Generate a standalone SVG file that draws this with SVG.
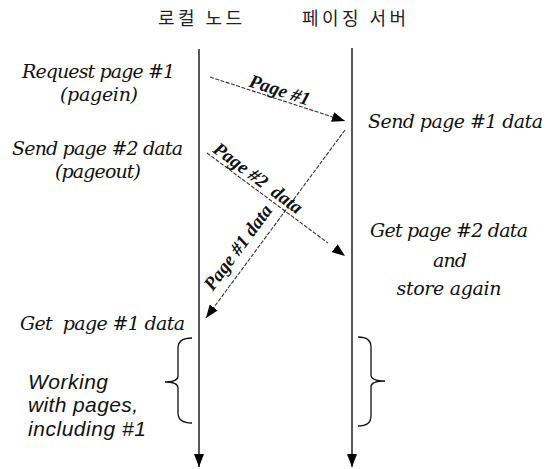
<svg xmlns="http://www.w3.org/2000/svg" width="557" height="469" viewBox="0 0 557 469">
<style>
.title{font-family:"Noto Sans CJK KR","Noto Sans",sans-serif;font-size:18px;fill:#222}
.note{font-family:"DejaVu Serif","Liberation Serif",serif;font-style:italic;font-size:19px;fill:#111}
.sans{font-family:"Liberation Sans",Arial,sans-serif;font-style:italic;font-size:21px;fill:#111}
.lbl{font-family:"Liberation Serif","Times New Roman",serif;font-style:italic;font-weight:bold;font-size:19px;fill:#111;text-anchor:middle}
.life{stroke:#111;stroke-width:1.4;fill:none}
.msg{stroke:#333;stroke-width:1.1;stroke-dasharray:4 1.5;fill:none}
.brace{stroke:#111;stroke-width:1.3;fill:none}
</style>
<defs>
<marker id="ah" markerUnits="userSpaceOnUse" markerWidth="13" markerHeight="10" refX="13" refY="5" orient="auto">
<path d="M0,0 L13,5 L0,10 z" fill="#000"/>
</marker>
</defs>
<rect width="557" height="469" fill="#fff"/>
<g id="local-node">
<text class="title" x="158" y="25" textLength="84">로컬 노드</text>
<line class="life" x1="199" y1="49" x2="199" y2="467" marker-end="url(#ah)"/>
<path class="brace" d="M192,338 Q178,338 178,348 L178,376 Q178,382 165,382 Q178,382 178,388 L178,413 Q178,423 192,423"/>
</g>
<g id="paging-server">
<text class="title" x="302" y="25" textLength="104">페이징 서버</text>
<line class="life" x1="352" y1="48" x2="352" y2="467" marker-end="url(#ah)"/>
<path class="brace" d="M358,337 Q371,337 371,347 L371,375 Q371,381 385,381 Q371,381 371,387 L371,416 Q371,426 358,426"/>
</g>
<g id="notes-left">
<text class="note" x="22" y="78" textLength="153">Request page #1</text>
<text class="note" x="60" y="101" textLength="78">(pagein)</text>
<text class="note" x="12" y="155" textLength="171">Send page #2 data</text>
<text class="note" x="55" y="178" textLength="86">(pageout)</text>
<text class="note" x="20" y="330" textLength="165" xml:space="preserve">Get  page #1 data</text>
<text class="sans" x="28" y="389" textLength="80">Working</text>
<text class="sans" x="28" y="412" textLength="110">with pages,</text>
<text class="sans" x="28" y="436" textLength="118">including #1</text>
</g>
<g id="notes-right">
<text class="note" x="368" y="128" textLength="175">Send page #1 data</text>
<text class="note" x="370" y="237" textLength="158">Get page #2 data</text>
<text class="note" x="450" y="267" text-anchor="middle" textLength="34">and</text>
<text class="note" x="449" y="295" text-anchor="middle" textLength="105">store again</text>
</g>
<g id="connectors">
<line class="msg" x1="210" y1="77" x2="345" y2="121" marker-end="url(#ah)"/>
<line class="msg" x1="345" y1="130" x2="206" y2="318" marker-end="url(#ah)"/>
<line class="msg" x1="207" y1="153" x2="328" y2="243"/>
<path d="M333,247 L345,256" stroke="none" fill="none" marker-end="url(#ah)"/>
<text class="lbl" transform="translate(277,98.8) rotate(18.05)" x="0" y="-3">Page #1</text>
<text class="lbl" transform="translate(252,186.3) rotate(36.64)" x="0" y="-4" xml:space="preserve">Page #2  data</text>
<text class="lbl" transform="translate(251,257) rotate(-53.5)" x="0" y="-10">Page #1 data</text>
</g>
</svg>
